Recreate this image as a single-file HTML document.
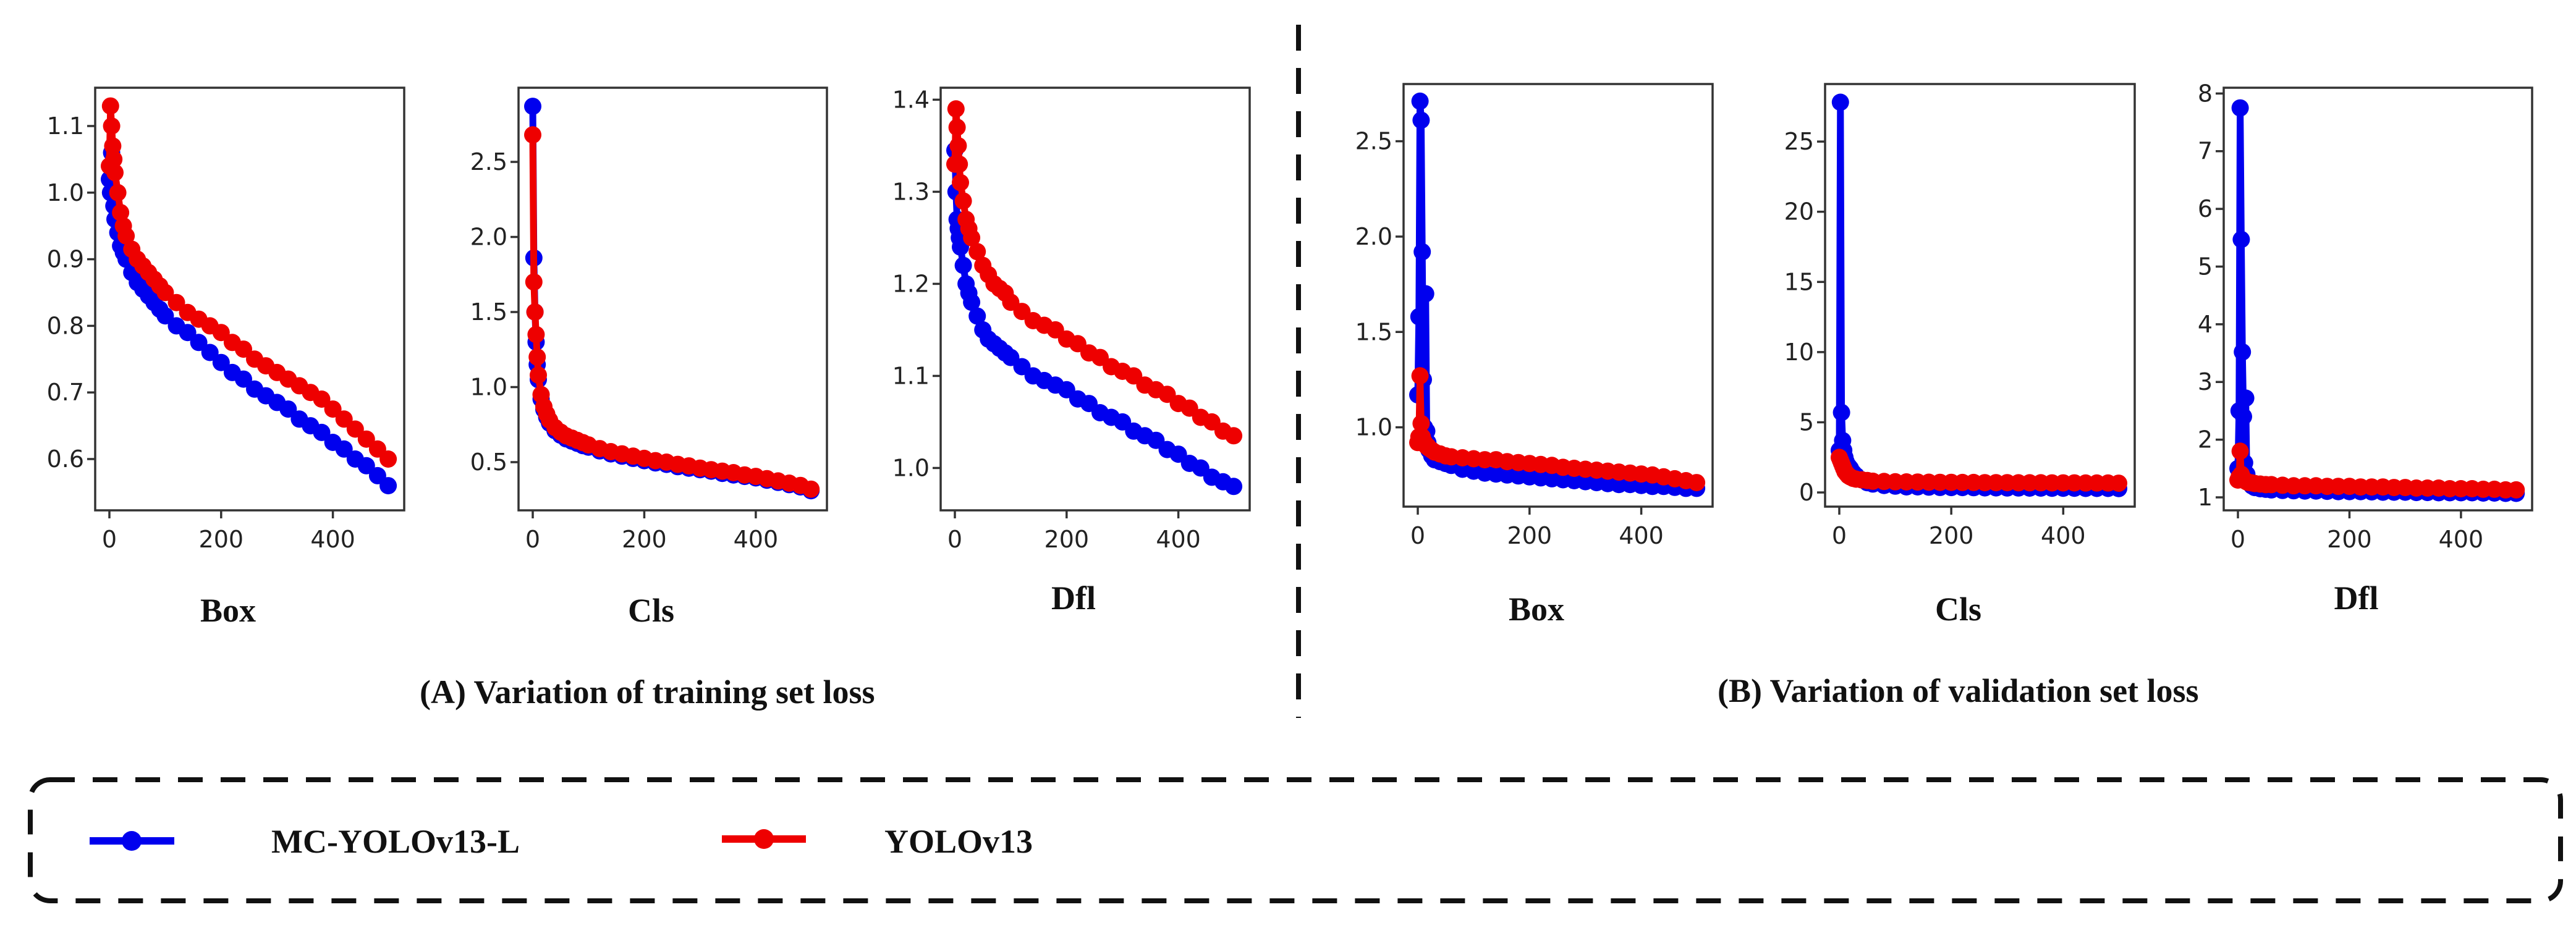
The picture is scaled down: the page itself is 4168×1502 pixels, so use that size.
<!DOCTYPE html>
<html><head><meta charset="utf-8">
<style>
html,body{margin:0;padding:0;background:#fff;}
svg{display:block;}
.tick{font-family:"DejaVu Sans","Liberation Sans",sans-serif;font-size:38px;fill:#222;}
.ttl{font-family:"Liberation Serif",serif;font-weight:bold;font-size:54px;fill:#111;}
</style></head>
<body>
<svg id="chart" width="4168" height="1502" viewBox="0 0 4168 1502" xmlns="http://www.w3.org/2000/svg">
<rect width="4168" height="1502" fill="#fff"/>
<line x1="2101" y1="40" x2="2101" y2="1162" stroke="#111" stroke-width="8" stroke-dasharray="42 28"/>
<text class="ttl" x="679" y="1138" font-size="52">(A) Variation of training set loss</text>
<text class="ttl" x="2779" y="1136" font-size="52">(B) Variation of validation set loss</text>
<g>
<rect x="49" y="1262" width="4094" height="196" rx="32" fill="none" stroke="#111" stroke-width="8" stroke-dasharray="40 29"/>
<g>
<line x1="145" y1="1361" x2="282" y2="1361" stroke="#0000ee" stroke-width="12"/>
<circle cx="213" cy="1361" r="16" fill="#0000ee"/>
<text class="ttl" x="439" y="1380" font-size="54">MC-YOLOv13-L</text>
</g>
<g>
<line x1="1168" y1="1358" x2="1304" y2="1358" stroke="#ee0000" stroke-width="12"/>
<circle cx="1236" cy="1358" r="16" fill="#ee0000"/>
<text class="ttl" x="1431" y="1380" font-size="54">YOLOv13</text>
</g>
</g>
<g id="plots"></g>
</svg>
<script>
const trainEpochs=[0,2,4,6,8,10,15,20,25,30,40,50,60,70,80,90,100,120,140,160,180,200,220,240,260,280,300,320,340,360,380,400,420,440,460,480,499];
const valEpochs=[0,2,4,6,8,10,12,14,16,18,20,25,30,40,50,60,80,100,120,140,160,180,200,220,240,260,280,300,320,340,360,380,400,420,440,460,480,499];
const xTicks=[0,200,400];

const trainBoxBlue=[1.02,1.0,1.06,1.0,0.98,0.96,0.94,0.92,0.91,0.9,0.88,0.865,0.855,0.845,0.835,0.825,0.815,0.8,0.79,0.775,0.76,0.745,0.73,0.72,0.705,0.695,0.685,0.675,0.66,0.65,0.64,0.625,0.615,0.6,0.59,0.575,0.56];
const trainBoxRed=[1.04,1.13,1.1,1.07,1.05,1.03,1.0,0.97,0.95,0.935,0.915,0.9,0.89,0.88,0.87,0.86,0.85,0.835,0.82,0.81,0.8,0.79,0.775,0.765,0.75,0.74,0.73,0.72,0.71,0.7,0.69,0.675,0.66,0.645,0.63,0.615,0.6];
const trainBoxTicks=[0.6,0.7,0.8,0.9,1.0,1.1];
const trainBoxLabels=["0.6","0.7","0.8","0.9","1.0","1.1"];

const trainClsBlue=[2.87,1.86,1.5,1.3,1.15,1.05,0.92,0.85,0.8,0.76,0.71,0.68,0.655,0.64,0.625,0.61,0.6,0.575,0.555,0.54,0.525,0.51,0.495,0.485,0.47,0.46,0.45,0.44,0.425,0.415,0.405,0.395,0.38,0.365,0.35,0.335,0.31];
const trainClsRed=[2.68,1.7,1.5,1.35,1.2,1.08,0.95,0.87,0.82,0.78,0.73,0.7,0.675,0.66,0.645,0.63,0.615,0.59,0.57,0.555,0.54,0.525,0.51,0.5,0.485,0.475,0.46,0.45,0.44,0.43,0.415,0.405,0.39,0.375,0.36,0.345,0.32];
const trainClsTicks=[0.5,1.0,1.5,2.0,2.5];
const trainClsLabels=["0.5","1.0","1.5","2.0","2.5"];

const trainDflBlue=[1.345,1.3,1.27,1.26,1.25,1.24,1.22,1.2,1.19,1.18,1.165,1.15,1.14,1.135,1.13,1.125,1.12,1.11,1.1,1.095,1.09,1.085,1.075,1.07,1.06,1.055,1.05,1.04,1.035,1.03,1.02,1.015,1.005,1.0,0.99,0.985,0.98];
const trainDflRed=[1.33,1.39,1.37,1.35,1.33,1.31,1.29,1.27,1.26,1.25,1.235,1.22,1.21,1.2,1.195,1.19,1.18,1.17,1.16,1.155,1.15,1.14,1.135,1.125,1.12,1.11,1.105,1.1,1.09,1.085,1.08,1.07,1.065,1.055,1.05,1.04,1.035];
const trainDflTicks=[1.0,1.1,1.2,1.3,1.4];
const trainDflLabels=["1.0","1.1","1.2","1.3","1.4"];

const valBoxBlue=[1.17,1.58,2.71,2.61,1.92,1.25,1.0,1.7,0.98,0.92,0.88,0.85,0.83,0.82,0.81,0.8,0.78,0.77,0.76,0.755,0.75,0.745,0.74,0.735,0.73,0.725,0.72,0.715,0.71,0.705,0.7,0.7,0.695,0.69,0.69,0.685,0.68,0.68];
const valBoxRed=[0.92,0.95,1.27,1.02,0.95,0.93,0.92,0.91,0.9,0.9,0.89,0.88,0.87,0.86,0.85,0.845,0.84,0.835,0.83,0.83,0.82,0.815,0.81,0.805,0.8,0.79,0.785,0.78,0.775,0.77,0.765,0.76,0.755,0.75,0.74,0.73,0.72,0.71];
const valBoxTicks=[1.0,1.5,2.0,2.5];
const valBoxLabels=["1.0","1.5","2.0","2.5"];

const valClsBlue=[3.0,27.8,5.7,3.7,3.0,2.5,2.2,2.0,1.9,1.8,1.7,1.4,1.2,0.9,0.7,0.6,0.5,0.45,0.4,0.4,0.38,0.36,0.35,0.35,0.34,0.33,0.33,0.32,0.32,0.31,0.31,0.3,0.3,0.3,0.29,0.29,0.29,0.28];
const valClsRed=[2.5,2.3,2.1,1.9,1.7,1.5,1.4,1.3,1.2,1.15,1.1,1.0,0.95,0.9,0.85,0.8,0.78,0.76,0.75,0.74,0.73,0.72,0.72,0.71,0.71,0.7,0.7,0.7,0.69,0.69,0.69,0.68,0.68,0.68,0.67,0.67,0.67,0.66];
const valClsTicks=[0,5,10,15,20,25];
const valClsLabels=["0","5","10","15","20","25"];

const valDflBlue=[1.5,2.5,7.75,5.47,3.52,2.4,1.6,2.72,1.4,1.3,1.25,1.2,1.17,1.15,1.14,1.13,1.12,1.115,1.11,1.11,1.105,1.1,1.1,1.1,1.095,1.09,1.09,1.09,1.085,1.085,1.08,1.08,1.08,1.08,1.075,1.075,1.07,1.07];
const valDflRed=[1.3,1.35,1.8,1.4,1.35,1.32,1.3,1.28,1.27,1.26,1.26,1.25,1.24,1.23,1.22,1.22,1.21,1.2,1.2,1.2,1.19,1.19,1.19,1.18,1.18,1.18,1.17,1.17,1.16,1.16,1.16,1.15,1.15,1.15,1.14,1.14,1.13,1.13];
const valDflTicks=[1,2,3,4,5,6,7,8];
const valDflLabels=["1","2","3","4","5","6","7","8"];

const NS="http://www.w3.org/2000/svg";
const root=document.getElementById('plots');
function mk(tag,attrs,parent){const e=document.createElementNS(NS,tag);for(const k in attrs)e.setAttribute(k,attrs[k]);parent.appendChild(e);return e;}

function panel(name,box,ylim,epochs,blue,red,yt,ytl,title,titleY){
  const g=mk('g',{},root);
  
  
  const [L,T,R,B]=box;
  const xs=v=>L+23+(v/500)*452*(R-L)/500;
  const ys=v=>B-(v-ylim[0])/(ylim[1]-ylim[0])*(B-T);
  const cp=mk('clipPath',{id:'cp-'+name},g);
  mk('rect',{x:L,y:T,width:R-L,height:B-T},cp);
  const series=[[blue,'#0000ee','mc-yolov13-l'],[red,'#ee0000','yolov13']];
  series.forEach(([arr,col,sn])=>{
    const sg=mk('g',{'clip-path':'url(#cp-'+name+')'},g);
    
    
    const n=Math.min(arr.length,epochs.length);
    let d='';
    for(let i=0;i<n;i++){d+=(i?'L':'M')+xs(epochs[i]).toFixed(1)+' '+ys(arr[i]).toFixed(1);}
    const p=mk('path',{d:d,fill:'none',stroke:col,'stroke-width':11,'stroke-linejoin':'round'},sg);
    
    
    for(let i=0;i<n;i++){
      const c=mk('circle',{cx:xs(epochs[i]).toFixed(1),cy:ys(arr[i]).toFixed(1),r:14,fill:col},sg);
      
      
    }
  });
  const fr=mk('rect',{x:L,y:T,width:R-L,height:B-T,fill:'none',stroke:'#333','stroke-width':3.5},g);
  
  
  yt.forEach((v,i)=>{
    const y=ys(v);
    mk('line',{x1:L-13,y1:y,x2:L,y2:y,stroke:'#333','stroke-width':3.5},g);
    const t=mk('text',{x:L-18,y:y+13,'text-anchor':'end',class:'tick'},g);
    t.textContent=ytl[i];
    
    
  });
  xTicks.forEach(v=>{
    const x=xs(v);
    mk('line',{x1:x,y1:B,x2:x,y2:B+13,stroke:'#333','stroke-width':3.5},g);
    const t=mk('text',{x:x,y:B+60,'text-anchor':'middle',class:'tick'},g);
    t.textContent=String(v);
    
    
  });
  const tt=mk('text',{x:(L+R)/2-35,y:titleY,'text-anchor':'middle',class:'ttl'},g);
  tt.textContent=title;
  
  
}
panel('train-box',[154,142,654,826],[0.523,1.1575],trainEpochs,trainBoxBlue,trainBoxRed,trainBoxTicks,trainBoxLabels,'Box',1006);
panel('train-cls',[839,142,1338,826],[0.179,2.994],trainEpochs,trainClsBlue,trainClsRed,trainClsTicks,trainClsLabels,'Cls',1006);
panel('train-dfl',[1522,142,2022,826],[0.954,1.413],trainEpochs,trainDflBlue,trainDflRed,trainDflTicks,trainDflLabels,'Dfl',986);
panel('val-box',[2271,136,2771,820],[0.584,2.80],valEpochs,valBoxBlue,valBoxRed,valBoxTicks,valBoxLabels,'Box',1004);
panel('val-cls',[2953,136,3454,820],[-1.01,29.1],valEpochs,valClsBlue,valClsRed,valClsTicks,valClsLabels,'Cls',1004);
panel('val-dfl',[3598,142,4097,826],[0.775,8.1],valEpochs,valDflBlue,valDflRed,valDflTicks,valDflLabels,'Dfl',986);
</script>
</body></html>
